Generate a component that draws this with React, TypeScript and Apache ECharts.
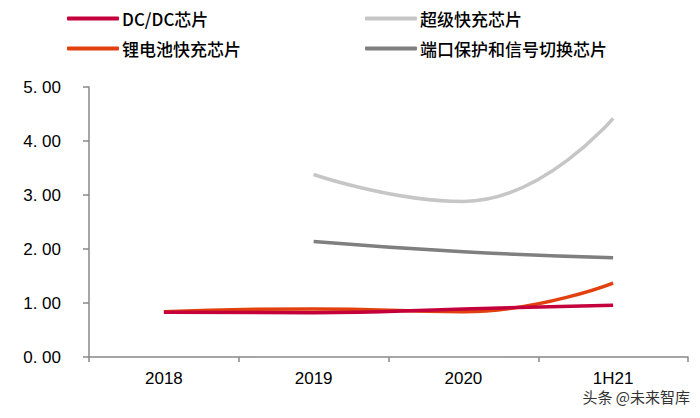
import React, { useEffect, useRef } from "react";
import * as echarts from "echarts";

const categories = ["2018", "2019", "2020", "1H21"];
const seriesNames = ["DC/DC芯片", "超级快充芯片", "锂电池快充芯片", "端口保护和信号切换芯片"];
const dcdc = [0.83, 0.82, 0.89, 0.96];
const superFast = [null, 3.38, 2.88, 4.42];
const lithium = [0.84, 0.89, 0.84, 1.37];
const portProtect = [null, 2.14, 1.95, 1.84];
const colors = ["#C4003C", "#C6C6C6", "#E2400E", "#7F7F7F"];
const yTicks = [0, 1, 2, 3, 4, 5];

export default function App() {
  const ref = useRef<HTMLDivElement>(null);
  useEffect(() => {
    const chart = echarts.init(ref.current!, null, { renderer: "svg" });
    const values = [dcdc, superFast, lithium, portProtect];
    const cjk = "'Liberation Sans Narrow', 'Noto Sans CJK SC', sans-serif";
    const legendText = { fontSize: 17, color: "#000", fontFamily: cjk, fontWeight: 500, padding: [0, 0, 0, -2] };
    chart.setOption({
      animation: false,
      legend: [
        {
          left: 62,
          top: 5,
          orient: "vertical",
          itemGap: 13,
          itemWidth: 52,
          itemHeight: 4,
          icon: "roundRect",
          data: [seriesNames[0], seriesNames[2]],
          textStyle: legendText,
        },
        {
          left: 360,
          top: 5,
          orient: "vertical",
          itemGap: 13,
          itemWidth: 52,
          itemHeight: 4,
          icon: "roundRect",
          data: [seriesNames[1], seriesNames[3]],
          textStyle: legendText,
        },
      ],
      grid: { left: 89, right: 12, top: 87, bottom: 61 },
      xAxis: {
        type: "category",
        data: categories,
        boundaryGap: true,
        axisLine: { lineStyle: { color: "#888", width: 1.5 } },
        axisTick: { show: true, length: 5, lineStyle: { color: "#888", width: 1.5 } },
        axisLabel: { fontSize: 17, color: "#000", margin: 13, fontFamily: "'Liberation Sans Narrow', 'Liberation Sans', sans-serif" },
      },
      yAxis: {
        type: "value",
        min: yTicks[0],
        max: yTicks[yTicks.length - 1],
        interval: 1,
        splitLine: { show: false },
        axisLine: { show: true, lineStyle: { color: "#888", width: 1.5 } },
        axisTick: { show: true, length: 6, lineStyle: { color: "#888", width: 1.5 } },
        axisLabel: {
          fontSize: 17,
          color: "#000",
          margin: 28,
          fontFamily: "'Liberation Sans', Arial, sans-serif",
          formatter: (v: number) => v.toFixed(2).replace(".", ". "),
        },
      },
      series: seriesNames.map((name, i) => ({
        name,
        type: "line",
        data: values[i],
        smooth: true,
        showSymbol: false,
        symbol: "none",
        lineStyle: { color: colors[i], width: 3.5 },
        itemStyle: { color: colors[i] },
        z: i === 0 ? 3 : 2,
      })),
      graphic: [
        {
          type: "text",
          right: 10,
          top: 389,
          style: {
            text: "头条 @未来智库",
            fontSize: 15,
            fill: "#333",
            fontFamily: "'Noto Sans CJK SC', sans-serif",
          },
        },
      ],
    });
    return () => chart.dispose();
  }, []);
  return <div ref={ref} style={{ width: 700, height: 418, margin: -8 }} />;
}
